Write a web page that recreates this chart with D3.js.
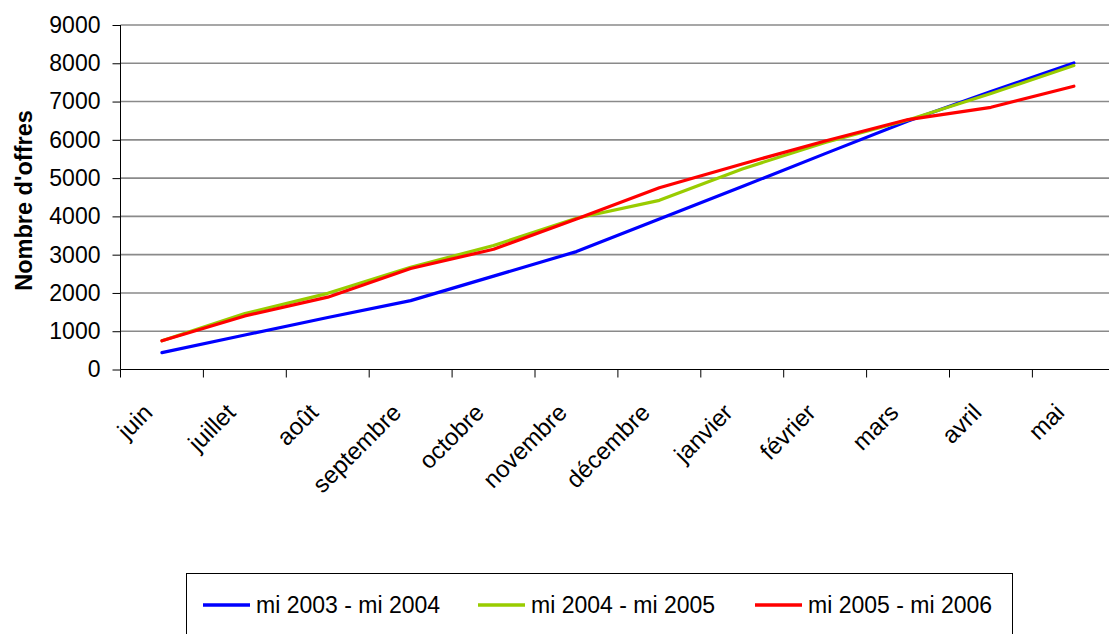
<!DOCTYPE html>
<html>
<head>
<meta charset="utf-8">
<script src="https://cdn.jsdelivr.net/npm/d3@7"></script>
<style>
  body { margin: 0; background: #fff; }
  text { font-family: Arial, "Liberation Sans", sans-serif; }
</style>
</head>
<body>
<script>
var width = 1109,
    height = 634;

// chart data
var months = ['juin', 'juillet', 'août', 'septembre', 'octobre', 'novembre',
              'décembre', 'janvier', 'février', 'mars', 'avril', 'mai'];
var serie2003 = [440, 900, 1360, 1800, 2440, 3080, 3930, 4780, 5640, 6490, 7260, 8010];
var serie2004 = [750, 1460, 1990, 2670, 3240, 3950, 4420, 5240, 5930, 6520, 7210, 7940];
var serie2005 = [750, 1400, 1890, 2640, 3140, 3930, 4750, 5370, 5970, 6530, 6850, 7400];
var seriesNames = ['mi 2003 - mi 2004', 'mi 2004 - mi 2005', 'mi 2005 - mi 2006'];
var seriesColors = ['#0000ff', '#99cc00', '#ff0000'];
var yTicks = [0, 1000, 2000, 3000, 4000, 5000, 6000, 7000, 8000, 9000];

var series = [serie2003, serie2004, serie2005];

// note: "top" is taken by window.top, so plot edges get their own names
var plotLeft = 120.5, plotRight = 1115.3, plotTop = 25, plotBottom = 369.5;

var svg = d3.select('body')
    .append('svg')
    .attr('width', width)
    .attr('height', height);

var x = d3.scaleBand()
    .domain(months)
    .range([plotLeft, plotRight]);

var y = d3.scaleLinear()
    .domain([0, 9000])
    .range([plotBottom, plotTop]);

// gridlines
svg.append('g')
    .selectAll('line')
    .data(yTicks.slice(1))
    .enter()
    .append('line')
    .attr('x1', plotLeft)
    .attr('x2', plotRight)
    .attr('y1', d => y(d))
    .attr('y2', d => y(d))
    .attr('stroke', '#8a8a8a')
    .attr('stroke-width', 1.6);

// y axis
var yAxis = svg.append('g')
    .attr('transform', 'translate(' + plotLeft + ',0)')
    .call(d3.axisLeft(y).tickValues(yTicks).tickSize(8).tickPadding(12).tickFormat(d3.format('d')));
yAxis.select('.domain').attr('stroke', '#000').attr('d', 'M0,' + plotTop + 'V' + plotBottom);
yAxis.selectAll('.tick line').attr('stroke', '#000');
yAxis.selectAll('.tick text')
    .attr('font-size', 23)
    .attr('fill', '#000')
    .style('font-family', 'Arial, "Liberation Sans", sans-serif');

// x axis line and ticks at category boundaries
svg.append('line')
    .attr('x1', plotLeft).attr('x2', plotRight)
    .attr('y1', plotBottom).attr('y2', plotBottom)
    .attr('stroke', '#000');

var bounds = months.map(d => x(d)).concat([plotRight]);
svg.append('g')
    .selectAll('line')
    .data(bounds)
    .enter()
    .append('line')
    .attr('x1', d => d).attr('x2', d => d)
    .attr('y1', plotBottom).attr('y2', plotBottom + 8)
    .attr('stroke', '#000');

svg.append('g')
    .selectAll('text')
    .data(months)
    .enter()
    .append('text')
    .attr('transform', d => 'translate(' + (x(d) + x.bandwidth() / 2 - 8) + ',' + 414 + ') rotate(-45)')
    .attr('text-anchor', 'end')
    .attr('font-size', 24)
    .text(d => d);

// y title
svg.append('text')
    .attr('transform', 'translate(31.5,200.5) rotate(-90)')
    .attr('text-anchor', 'middle')
    .attr('font-size', 23.5)
    .attr('font-weight', 'bold')
    .text("Nombre d'offres");

// lines
var line = d3.line()
    .x((d, i) => x(months[i]) + x.bandwidth() / 2)
    .y(d => y(d));

svg.append('g')
    .selectAll('path')
    .data(series)
    .enter()
    .append('path')
    .attr('d', d => line(d))
    .attr('fill', 'none')
    .attr('stroke', (d, i) => seriesColors[i])
    .attr('stroke-width', 3.2)
    .attr('stroke-linejoin', 'round')
    .attr('stroke-linecap', 'round');

// legend
var legend = svg.append('g');
legend.append('rect')
    .attr('x', 186.5).attr('y', 573.5)
    .attr('width', 826).attr('height', 80)
    .attr('fill', '#fff')
    .attr('stroke', '#000');

var legendX = [203, 478, 755];
var items = legend.selectAll('g.item')
    .data(seriesNames)
    .enter()
    .append('g')
    .attr('class', 'item')
    .attr('transform', (d, i) => 'translate(' + legendX[i] + ',605)');
items.append('line')
    .attr('x1', 0).attr('x2', 47)
    .attr('stroke', (d, i) => seriesColors[i])
    .attr('stroke-width', 3.5);
items.append('text')
    .attr('x', 53)
    .attr('y', 8)
    .attr('font-size', 23)
    .text(d => d);
</script>
</body>
</html>
